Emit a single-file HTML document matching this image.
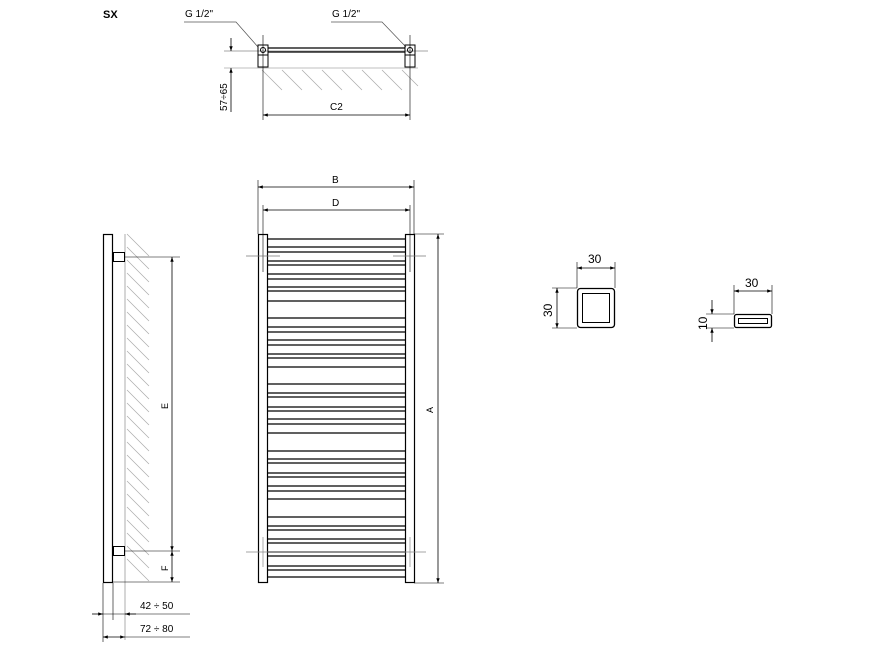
<!DOCTYPE html>
<html><head><meta charset="utf-8"><style>html,body{margin:0;padding:0;background:#fff}svg{display:block}</style></head><body>
<svg width="880" height="660" viewBox="0 0 880 660" xmlns="http://www.w3.org/2000/svg" font-family="Liberation Sans, DejaVu Sans, sans-serif">
<defs>
<marker id="a" viewBox="0 0 10 10" refX="10" refY="5" markerWidth="7" markerHeight="6" orient="auto-start-reverse"><path d="M0,1.5 L10,5 L0,8.5z" fill="#000"/></marker>
</defs>
<text x="103" y="18" font-size="11" font-weight="bold">SX</text>
<!-- top view -->
<g stroke="#000" fill="none" stroke-width="1">
<text x="185" y="17" font-size="10" stroke="none" fill="#000">G 1/2"</text>
<text x="332" y="17" font-size="10" stroke="none" fill="#000">G 1/2"</text>
<polyline points="184,22 236,22 258,47" stroke="#555" stroke-width="0.7"/>
<polyline points="331,22 382,22 406,47" stroke="#555" stroke-width="0.7"/>
<line x1="224" y1="51" x2="428" y2="51" stroke="#888" stroke-width="0.7"/>
<line x1="224" y1="68" x2="418" y2="68" stroke="#aaa" stroke-width="0.7"/>
<g stroke="#aaa" stroke-width="0.7">
<line x1="262" y1="70" x2="282" y2="90"/><line x1="282" y1="70" x2="302" y2="90"/><line x1="302" y1="70" x2="322" y2="90"/><line x1="322" y1="70" x2="342" y2="90"/><line x1="342" y1="70" x2="362" y2="90"/><line x1="362" y1="70" x2="382" y2="90"/><line x1="382" y1="70" x2="402" y2="90"/><line x1="402" y1="70" x2="418" y2="86"/>
</g>
<rect x="258" y="45" width="10" height="10"/><circle cx="263" cy="50" r="2.5"/>
<rect x="405" y="45" width="10" height="10"/><circle cx="410" cy="50" r="2.5"/>
<rect x="258" y="55" width="10" height="12"/><rect x="405" y="55" width="10" height="12"/>
<line x1="268" y1="48" x2="405" y2="48" stroke-width="1.2"/><line x1="268" y1="52" x2="405" y2="52" stroke-width="1.2"/>
<line x1="263" y1="35" x2="263" y2="120" stroke-width="0.6"/><line x1="410" y1="35" x2="410" y2="120" stroke-width="0.6"/>
<line x1="263" y1="115" x2="410" y2="115" marker-start="url(#a)" marker-end="url(#a)" stroke-width="0.8"/>
<text x="330" y="110" font-size="10" stroke="none" fill="#000">C2</text>
<line x1="231" y1="38" x2="231" y2="51" marker-end="url(#a)" stroke-width="0.8"/>
<line x1="231" y1="112" x2="231" y2="68" marker-end="url(#a)" stroke-width="0.8"/>
<text transform="translate(227,111) rotate(-90)" font-size="10" stroke="none" fill="#000">57÷65</text>
</g>
<!-- front view -->
<g stroke="#000" fill="none">
<line x1="258" y1="180" x2="258" y2="234" stroke-width="0.6"/><line x1="414" y1="180" x2="414" y2="234" stroke-width="0.6"/>
<line x1="263" y1="205" x2="263" y2="272" stroke-width="0.6"/><line x1="410" y1="205" x2="410" y2="272" stroke-width="0.6"/>
<line x1="258" y1="187" x2="414" y2="187" marker-start="url(#a)" marker-end="url(#a)" stroke-width="0.8"/>
<line x1="263" y1="210" x2="410" y2="210" marker-start="url(#a)" marker-end="url(#a)" stroke-width="0.8"/>
<text x="332" y="183" font-size="10" stroke="none" fill="#000">B</text>
<text x="332" y="206" font-size="10" stroke="none" fill="#000">D</text>
<rect x="258.5" y="234.5" width="9" height="348" stroke-width="1.2"/>
<rect x="405.5" y="234.5" width="9" height="348" stroke-width="1.2"/>
<g stroke-width="1.3">
<path d="M268 239H405M268 247H405M268 252H405M268 261H405M268 265H405M268 274H405M268 279H405M268 287H405M268 291H405M268 301H405M268 318H405M268 327H405M268 332H405M268 340H405M268 345H405M268 354H405M268 358H405M268 367H405M268 384H405M268 393H405M268 397H405M268 407H405M268 411H405M268 419H405M268 424H405M268 433H405M268 451H405M268 459H405M268 463H405M268 473H405M268 477H405M268 486H405M268 491H405M268 499H405M268 517H405M268 526H405M268 530H405M268 539H405M268 543H405M268 552H405M268 556H405M268 566H405M268 570H405M268 577H405"/>
</g>
<line x1="246" y1="256" x2="280" y2="256" stroke="#777" stroke-width="0.7"/><line x1="393" y1="256" x2="426" y2="256" stroke="#777" stroke-width="0.7"/>
<line x1="246" y1="552" x2="426" y2="552" stroke="#888" stroke-width="0.7"/>
<line x1="263" y1="537" x2="263" y2="567" stroke="#888" stroke-width="0.7"/><line x1="410" y1="537" x2="410" y2="567" stroke="#888" stroke-width="0.7"/>
<line x1="414" y1="234" x2="444" y2="234" stroke-width="0.6"/><line x1="414" y1="583" x2="444" y2="583" stroke-width="0.6"/>
<line x1="438" y1="234" x2="438" y2="583" marker-start="url(#a)" marker-end="url(#a)" stroke-width="0.8"/>
<text transform="translate(433,413) rotate(-90)" font-size="9" stroke="none" fill="#000">A</text>
</g>
<!-- side view -->
<g stroke="#000" fill="none">
<g stroke="#aaa" stroke-width="0.7">
<path d="M127 234l22 22M127 247l22 22M127 260l22 22M127 273l22 22M127 286l22 22M127 299l22 22M127 312l22 22M127 325l22 22M127 338l22 22M127 351l22 22M127 364l22 22M127 377l22 22M127 390l22 22M127 403l22 22M127 416l22 22M127 429l22 22M127 442l22 22M127 455l22 22M127 468l22 22M127 481l22 22M127 494l22 22M127 507l22 22M127 520l22 22M127 533l22 22M127 546l22 22M127 559l22 22"/>
</g>
<line x1="125" y1="234" x2="125" y2="640" stroke="#999" stroke-width="0.8"/>
<rect x="103.5" y="234.5" width="9" height="348" stroke-width="1.2"/>
<rect x="113.5" y="252.5" width="11" height="9"/>
<rect x="113.5" y="546.5" width="11" height="9"/>
<line x1="125" y1="257" x2="180" y2="257" stroke-width="0.6"/><line x1="125" y1="551" x2="180" y2="551" stroke-width="0.6"/><line x1="113" y1="582" x2="180" y2="582" stroke-width="0.6"/>
<line x1="172" y1="257" x2="172" y2="551" marker-start="url(#a)" marker-end="url(#a)" stroke-width="0.8"/>
<line x1="172" y1="551" x2="172" y2="582" marker-start="url(#a)" marker-end="url(#a)" stroke-width="0.8"/>
<text transform="translate(168,409) rotate(-90)" font-size="9" stroke="none" fill="#000">E</text>
<text transform="translate(168,571) rotate(-90)" font-size="9" stroke="none" fill="#000">F</text>
<line x1="103" y1="583" x2="103" y2="642" stroke-width="0.6"/><line x1="113" y1="583" x2="113" y2="620" stroke-width="0.6"/>
<line x1="92" y1="614" x2="103" y2="614" marker-end="url(#a)" stroke-width="0.8"/>
<line x1="136" y1="614" x2="125" y2="614" marker-end="url(#a)" stroke-width="0.8"/>
<line x1="103" y1="614" x2="190" y2="614" stroke-width="0.6"/>
<line x1="103" y1="637" x2="125" y2="637" marker-start="url(#a)" marker-end="url(#a)" stroke-width="0.8"/>
<line x1="125" y1="637" x2="190" y2="637" stroke-width="0.6"/>
<text x="140" y="609" font-size="10" stroke="none" fill="#000">42 ÷ 50</text>
<text x="140" y="632" font-size="10" stroke="none" fill="#000">72 ÷ 80</text>
</g>
<!-- profiles -->
<g stroke="#000" fill="none">
<rect x="577.5" y="288.5" width="37" height="39" rx="3" stroke-width="1.3"/>
<rect x="582.5" y="293.5" width="27" height="29" stroke-width="1"/>
<line x1="577" y1="262" x2="577" y2="288" stroke-width="0.6"/><line x1="615" y1="262" x2="615" y2="288" stroke-width="0.6"/>
<line x1="577" y1="268" x2="615" y2="268" marker-start="url(#a)" marker-end="url(#a)" stroke-width="0.8"/>
<text x="588" y="263" font-size="12" stroke="none" fill="#000">30</text>
<line x1="552" y1="288" x2="577" y2="288" stroke-width="0.6"/><line x1="552" y1="328" x2="577" y2="328" stroke-width="0.6"/>
<line x1="557" y1="288" x2="557" y2="328" marker-start="url(#a)" marker-end="url(#a)" stroke-width="0.8"/>
<text transform="translate(552,317) rotate(-90)" font-size="12" stroke="none" fill="#000">30</text>
<rect x="734.5" y="314.5" width="37" height="13" rx="2" stroke-width="1.3"/>
<rect x="738.5" y="318.5" width="29" height="5" stroke-width="1"/>
<line x1="734" y1="285" x2="734" y2="314" stroke-width="0.6"/><line x1="772" y1="285" x2="772" y2="314" stroke-width="0.6"/>
<line x1="734" y1="291" x2="772" y2="291" marker-start="url(#a)" marker-end="url(#a)" stroke-width="0.8"/>
<text x="745" y="287" font-size="12" stroke="none" fill="#000">30</text>
<line x1="706" y1="314" x2="734" y2="314" stroke-width="0.6"/><line x1="706" y1="328" x2="734" y2="328" stroke-width="0.6"/>
<line x1="712" y1="300" x2="712" y2="314" marker-end="url(#a)" stroke-width="0.8"/>
<line x1="712" y1="342" x2="712" y2="328" marker-end="url(#a)" stroke-width="0.8"/>
<text transform="translate(707,330) rotate(-90)" font-size="12" stroke="none" fill="#000">10</text>
</g>
</svg>
</body></html>
